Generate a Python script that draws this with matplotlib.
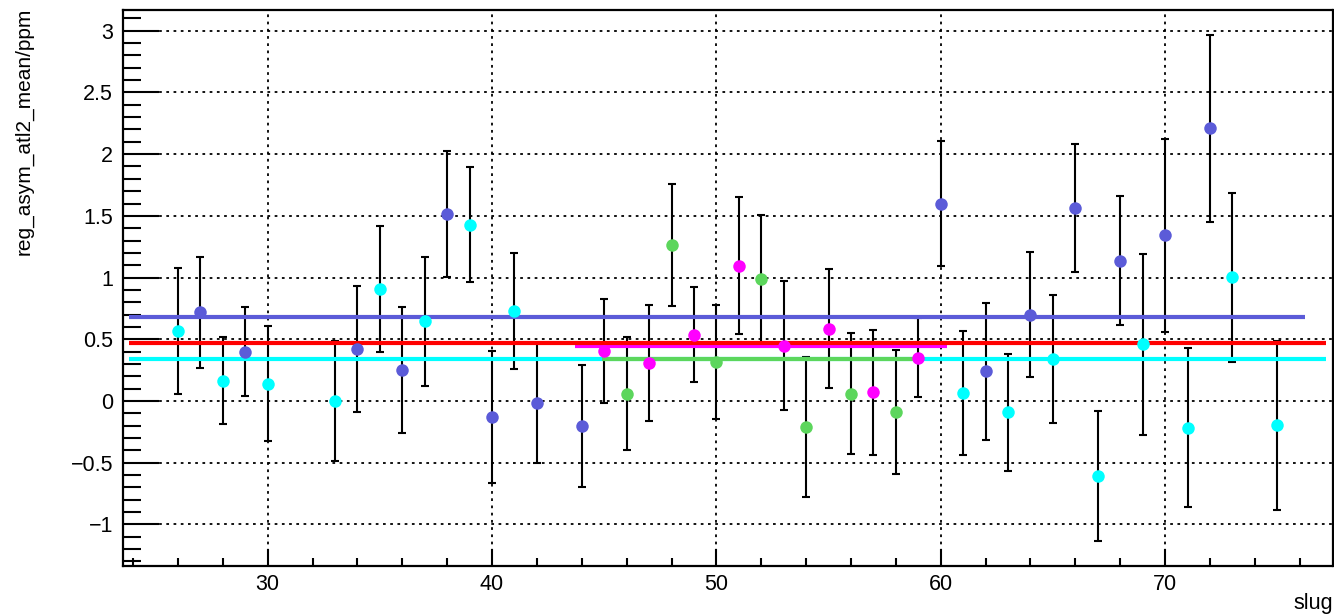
import matplotlib
matplotlib.use("Agg")
import matplotlib.pyplot as plt
from matplotlib.ticker import FixedLocator, MultipleLocator

plt.rcParams['font.family'] = ['Liberation Sans', 'DejaVu Sans']

# ---- data ----
blue_x = [27, 29, 34, 36, 38, 40, 42, 44, 60, 62, 64, 66, 68, 70, 72]
blue_y = [0.72, 0.40, 0.42, 0.25, 1.515, -0.127, -0.016, -0.20, 1.598, 0.241, 0.700, 1.565, 1.138, 1.341, 2.209]
blue_e = [0.45, 0.36, 0.51, 0.51, 0.51, 0.535, 0.485, 0.495, 0.505, 0.554, 0.505, 0.52, 0.526, 0.78, 0.755]

cyan_x = [26, 28, 30, 33, 35, 37, 39, 41, 61, 63, 65, 67, 69, 71, 73, 75]
cyan_y = [0.57, 0.165, 0.14, 0.00, 0.91, 0.645, 1.43, 0.733, 0.065, -0.092, 0.341, -0.608, 0.460, -0.216, 1.003, -0.195]
cyan_e = [0.51, 0.355, 0.465, 0.49, 0.51, 0.52, 0.465, 0.47, 0.50, 0.476, 0.52, 0.527, 0.734, 0.645, 0.685, 0.685]

magenta_x = [45, 47, 49, 51, 53, 55, 57, 59]
magenta_y = [0.405, 0.308, 0.538, 1.097, 0.449, 0.587, 0.070, 0.351]
magenta_e = [0.42, 0.47, 0.384, 0.555, 0.52, 0.48, 0.505, 0.32]

green_x = [46, 48, 50, 52, 54, 56, 58]
green_y = [0.06, 1.265, 0.316, 0.989, -0.211, 0.059, -0.092]
green_e = [0.46, 0.495, 0.46, 0.52, 0.57, 0.49, 0.503]

# fit results: value, range start, range end
fit_blue = [0.684, 23.83, 76.23]
fit_red = [0.470, 23.83, 77.16]
fit_cyan = [0.341, 23.83, 77.16]
fit_magenta = [0.449, 43.7, 60.3]
fit_green = [0.342, 44.9, 59.1]

x_ticks = [30, 40, 50, 60, 70]
y_ticks = [-1, -0.5, 0, 0.5, 1, 1.5, 2, 2.5, 3]
y_ticklabels = ['\u22121', '\u22120.5', '0', '0.5', '1', '1.5', '2', '2.5', '3']

C_BLUE = '#5b5bd8'
C_CYAN = '#00ffff'
C_MAG = '#ff00ff'
C_GREEN = '#5cd65c'
C_RED = '#ff0000'

fig = plt.figure(figsize=(13.34, 6.16), dpi=100)
ax = fig.add_axes([122.7 / 1334, 1 - 566 / 616, (1332.5 - 122.7) / 1334, (566 - 10) / 616])
ax.set_xlim(23.54, 77.46)
ax.set_ylim(-1.337, 3.168)

# grid
ax.set_axisbelow(True)
ax.xaxis.set_major_locator(FixedLocator(x_ticks))
ax.yaxis.set_major_locator(FixedLocator(y_ticks))
ax.set_yticklabels(y_ticklabels)
ax.set_xticklabels([str(t) for t in x_ticks])
ax.xaxis.set_minor_locator(MultipleLocator(2))
ax.yaxis.set_minor_locator(MultipleLocator(0.1))
ax.grid(True, which='major', color='black', linewidth=1.3, linestyle=(0, (1.5, 2.5)))

# error bars
for xs, ys, es, c in [(blue_x, blue_y, blue_e, C_BLUE), (cyan_x, cyan_y, cyan_e, C_CYAN),
                      (magenta_x, magenta_y, magenta_e, C_MAG), (green_x, green_y, green_e, C_GREEN)]:
    ax.errorbar(xs, ys, yerr=es, fmt='none', ecolor='black', elinewidth=1.5,
                capsize=3.0, capthick=1.5, zorder=2)

# fit lines
for fit, c, z in [(fit_cyan, C_CYAN, 3), (fit_green, C_GREEN, 3.1), (fit_magenta, C_MAG, 3.2),
                  (fit_red, C_RED, 3.3), (fit_blue, C_BLUE, 3.4)]:
    ax.plot([fit[1], fit[2]], [fit[0], fit[0]], color=c, linewidth=3.0, solid_capstyle='butt', zorder=z)

# markers
for xs, ys, c in [(blue_x, blue_y, C_BLUE), (cyan_x, cyan_y, C_CYAN),
                  (magenta_x, magenta_y, C_MAG), (green_x, green_y, C_GREEN)]:
    ax.plot(xs, ys, 'o', color=c, markersize=9, markeredgewidth=0, zorder=5, linestyle='none')

# axes styling
for s in ax.spines.values():
    s.set_linewidth(1.6)
ax.tick_params(axis='both', which='both', direction='in', width=1.5, labelsize=15.5,
               top=False, right=False)
ax.tick_params(axis='y', which='major', length=26, pad=7)
ax.tick_params(axis='y', which='minor', length=13)
ax.tick_params(axis='x', which='major', length=12.5, pad=6)
ax.tick_params(axis='x', which='minor', length=6)

fig.text(24 / 1334, 1 - 8 / 616, 'reg_asym_atl2_mean/ppm', rotation=90, ha='center', va='top', fontsize=15)
fig.text(1333 / 1334, 1 - 603 / 616, 'slug', ha='right', va='center', fontsize=15.5)

fig.savefig('out.png', dpi=100)
